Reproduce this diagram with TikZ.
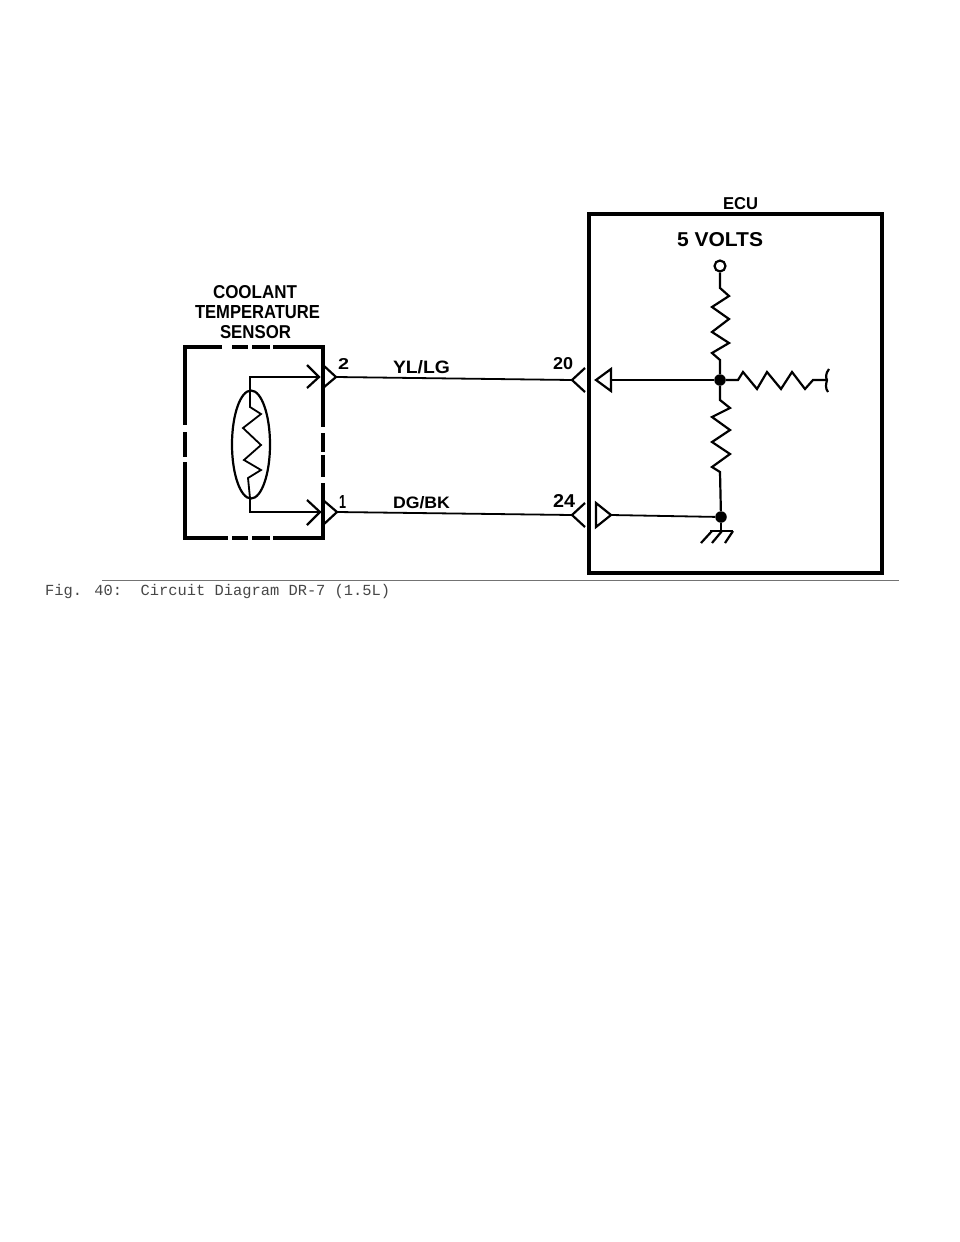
\documentclass[tikz,border=0pt]{standalone}
\usepackage{fontspec}
\usepackage{graphicx}
\setmainfont{Liberation Sans}
\newfontfamily\capfont{Liberation Mono}
\newcommand{\fitlab}[3]{\resizebox{#1pt}{#2pt}{#3}}
\tikzset{
  lab/.style={anchor=base west,inner sep=0pt,outer sep=0pt,font=\bfseries},
  thin wire/.style={line width=1.8pt,line join=miter},
  mid wire/.style={line width=2.2pt,line join=miter},
  chevron/.style={line width=2.2pt,line join=miter},
  frame/.style={line width=3.4pt},
  dotnode/.style={circle,fill=black,inner sep=0pt,minimum size=11.5pt},
  opennode/.style={circle,draw=black,line width=2.2pt,fill=white,inner sep=0pt,minimum size=11pt},
}
\begin{document}
\begin{tikzpicture}[x=1pt,y=-1pt]
\useasboundingbox[fill=white] (0,0) rectangle (960,1242);

% Sensor box (dashed frame)
\draw[frame] (222,347) -- (185,347) -- (185,425);
\draw[frame] (232,347) -- (248,347);
\draw[frame] (252,347) -- (270,347);
\draw[frame] (273,347) -- (323,347) -- (323,427);
\draw[frame] (185,432) -- (185,457);
\draw[frame] (185,462) -- (185,538) -- (228,538);
\draw[frame] (232,538) -- (248,538);
\draw[frame] (252,538) -- (270,538);
\draw[frame] (273,538) -- (323,538) -- (323,483);
\draw[frame] (323,433) -- (323,452);
\draw[frame] (323,455) -- (323,477);

% Sensor element
\coordinate (stop) at (250,391);
\coordinate (sbot) at (250,498);
\coordinate (tl) at (250,377);
\coordinate (bl) at (250,512);
\coordinate (inA) at (319,377);
\coordinate (inB) at (320,512);
\coordinate (outA) at (336,377);
\coordinate (outB) at (337,512);
\draw[line width=2.2pt] (251,444.5) ellipse [x radius=19,y radius=54];
\draw[thin wire] (inA) -- (tl) -- (stop) -- (250,407) -- (261,414) -- (243,428) -- (261,445) -- (244,460) -- (261,470) -- (248,478) -- (sbot) -- (bl) -- (inB);
\draw[chevron] (307,365) -- (inA) -- (307,388);
\draw[chevron] (307,500) -- (inB) -- (307,525);
\draw[chevron] (323,365) -- (outA) -- (323,388);
\draw[chevron] (323,500) -- (outB) -- (323,525);

% ECU box
\draw[line width=3.4pt,line join=miter] (589,214) rectangle (882,573);

% Harness wires
\coordinate (tipA) at (572,380);
\coordinate (tipB) at (572,515);
\draw[thin wire] (outA) -- (tipA);
\draw[thin wire] (outB) -- (tipB);
\draw[chevron] (585,368) -- (tipA) -- (585,392);
\draw[chevron] (585,503) -- (tipB) -- (585,527);

% ECU terminals
\draw[chevron] (596,380) -- (611,369) -- (611,391) -- cycle;
\draw[chevron] (611,515) -- (596,503) -- (596,527) -- cycle;

% ECU internals
\node[opennode] (vplus) at (720,266) {};
\node[dotnode] (jA) at (720,380) {};
\node[dotnode] (jB) at (721,517) {};
\coordinate (triA) at (611,380);
\coordinate (triB) at (611,515);
\draw[line width=2.8pt] (triA) -- (jA);
\draw[thin wire] (triB) -- (jB);
\draw[mid wire] (vplus) -- (720,288) -- (729,296) -- (712,307) -- (729,319) -- (712,332) -- (729,343) -- (712,353) -- (720,360) -- (jA);
\draw[mid wire] (jA) -- (720,400) -- (730,408) -- (712,417) -- (730,430) -- (712,442) -- (730,454) -- (712,467) -- (720,472) -- (jB);
\draw[mid wire] (jA) -- (738,380) -- (743,372) -- (757,389) -- (767,372) -- (781,389) -- (792,372) -- (805,389) -- (813,380) -- (827,380);
\draw[mid wire] (829,369) .. controls (825,374) and (826,378) .. (827,380) .. controls (826,384) and (825,388) .. (828,392);

% Ground
\coordinate (gnd) at (721,531);
\draw[mid wire] (jB) -- (gnd);
\draw[mid wire] (710,531) -- (733,531);
\draw[mid wire] (712,531) -- (701,543);
\draw[mid wire] (722,531) -- (712,543);
\draw[mid wire] (733,531) -- (725,543);

% Labels
\node[lab] (t1) at (213,298) {\fitlab{84}{13}{COOLANT}};
\node[lab] (t2) at (195,318) {\fitlab{125}{13}{TEMPERATURE}};
\node[lab] (t3) at (220,338) {\fitlab{71}{13}{SENSOR}};
\node[lab] (p2) at (338,369) {\fitlab{11}{11}{2}};
\node[lab] (p1) at (339,508) {\fitlab{7}{13}{1}};
\node[lab] (c1) at (393,373) {\fitlab{57}{13}{YL/LG}};
\node[lab] (c2) at (393,508) {\fitlab{57}{12}{DG/BK}};
\node[lab] (p20) at (553,369) {\fitlab{20}{12}{20}};
\node[lab] (p24) at (553,507) {\fitlab{22}{13}{24}};
\node[lab] (ecu) at (723,209) {\fitlab{35}{12}{ECU}};
\node[lab] (volts) at (677,246) {\fitlab{86}{14}{5 VOLTS}};

% Caption
\draw[line width=1pt,color=black!55] (102,580.5) -- (899,580.5);
\node[anchor=base west,inner sep=0pt,text=black!72,font=\fontsize{15.4}{15.4}\capfont] (caption) at (45,595) {Fig. 40:\ \ Circuit Diagram DR-7 (1.5L)};
\end{tikzpicture}
\end{document}
